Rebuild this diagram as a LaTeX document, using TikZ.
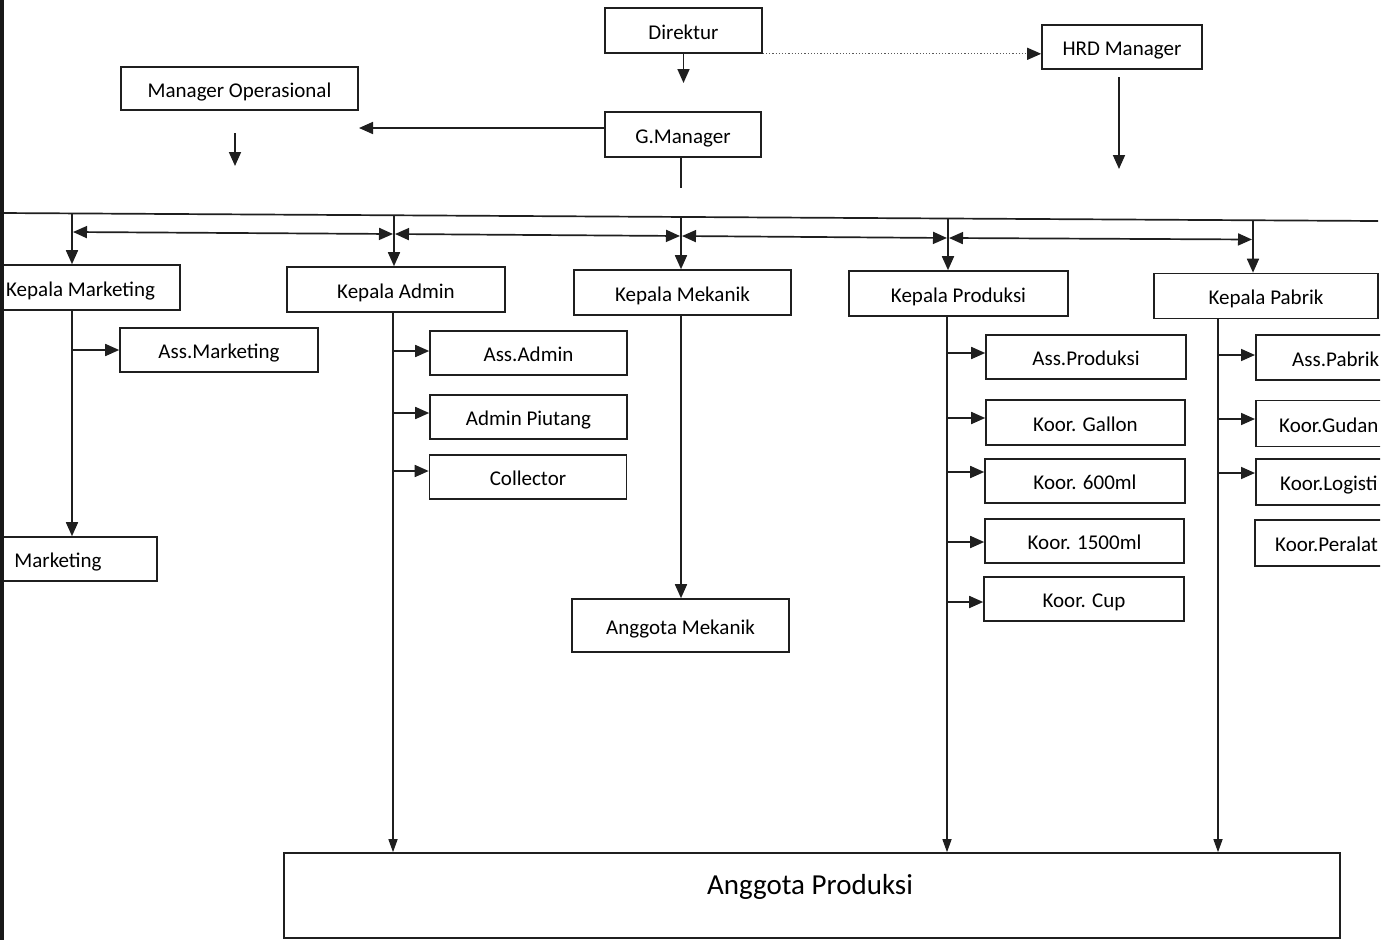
\documentclass[tikz,border=0pt]{standalone}
\usepackage{fontspec}
\setmainfont{Carlito}
\usetikzlibrary{arrows.meta}
\begin{document}
\begin{tikzpicture}[x=1pt,y=-1pt,
  box/.style={draw=black!88, line width=1.6pt, inner sep=0pt, text height=17pt, text depth=0pt, font=\fontsize{21}{24}\selectfont},
  lbl/.style={inner sep=0pt, text height=17pt, text depth=0pt, font=\fontsize{21}{24}\selectfont},
  ln/.style={draw=black!88, line width=1.7pt},
  arr/.style={ln, -{Triangle[length=14pt,width=12pt]}},
  darr/.style={ln, {Triangle[length=14pt,width=12pt]}-{Triangle[length=14pt,width=12pt]}},
  tarr/.style={draw=black!88, line width=1.4pt, -{Triangle[length=13pt,width=9pt]}},
  dotarr/.style={draw=black!65, line width=1.2pt, dotted, -{Triangle[length=14pt,width=12pt,fill=black!88,color=black!88]}}
]
\useasboundingbox (0,0) rectangle (1393,940);
\fill[white] (0,0) rectangle (1393,940);
\begin{scope}
\clip (4,-5) rectangle (1380,945);

% top level
\node[box, minimum width=157pt, minimum height=45pt] (dir) at (683.5,30.5) {Direktur};
\node[box, minimum width=160pt, minimum height=44pt] (hrd) at (1122,47) {HRD Manager};
\node[box, minimum width=156pt, minimum height=45pt] (gm) at (683,134.5) {G.Manager};
\node[box, minimum width=237pt, minimum height=43pt] (mo) at (239.5,88.5) {Manager Operasional};

\coordinate (dirend) at (683.5,83);
\coordinate (gmend) at (359,128);
\coordinate (gmstart) at (605,128);
\coordinate (mo1) at (235,133);
\coordinate (mo2) at (235,166);
\coordinate (h1) at (1119,77);
\coordinate (h2) at (1119,169);
\coordinate (g1) at (681,157);
\coordinate (g2) at (681,188);

\draw[arr] (dir.south) -- (dirend);
\draw[dotarr] (dir.south east) -- (hrd.west |- dir.south east);
\draw[arr] (gmstart) -- (gmend);
\draw[arr] (mo1) -- (mo2);
\draw[arr] (h1) -- (h2);
\draw[ln] (g1) -- (g2);

% second level
\node[box, minimum width=218pt, minimum height=45pt] (km) at (71,287.5) {};
\node[lbl, anchor=west] (kmt) at (6,287.5) {Kepala Marketing};
\node[box, minimum width=218pt, minimum height=45pt] (ka) at (396,289.5) {Kepala Admin};
\node[box, minimum width=217pt, minimum height=45pt] (kme) at (682.5,292.5) {Kepala Mekanik};
\node[box, minimum width=219pt, minimum height=45pt] (kp) at (958.5,293.5) {Kepala Produksi};
\node[box, minimum width=224pt, minimum height=45pt] (kpb) at (1266,296) {Kepala Pabrik};

% bus
\coordinate (bl) at (0,213);
\coordinate (br) at (1378,221);
\draw[ln] (bl) -- (br);
\coordinate (b1) at (72,213.4);
\coordinate (b2) at (394,215.3);
\coordinate (b3) at (681,216.9);
\coordinate (b4) at (948,218.5);
\coordinate (b5) at (1253,220.3);
\draw[arr] (b1) -- (b1 |- km.north);
\draw[arr] (b2) -- (b2 |- ka.north);
\draw[arr] (b3) -- (b3 |- kme.north);
\draw[arr] (b4) -- (b4 |- kp.north);
\draw[arr] (b5) -- (b5 |- kpb.north);

% coordination line
\draw[darr] (73,232) -- (393,234);
\draw[darr] (395,234) -- (680,236);
\draw[darr] (682,236) -- (947,238);
\draw[darr] (949,238) -- (1252,239.5);

% marketing
\node[box, minimum width=198pt, minimum height=44pt] (am) at (219,350) {Ass.Marketing};
\node[box, minimum width=198pt, minimum height=44pt] (mk) at (58,559) {Marketing};
\draw[arr] (b1 |- km.south) -- (b1 |- mk.north);
\draw[arr] (b1 |- am.west) -- (am.west);

% admin
\node[box, minimum width=197pt, minimum height=44pt] (aa) at (528.5,353) {Ass.Admin};
\node[box, minimum width=197pt, minimum height=44pt] (apt) at (528.5,417) {Admin Piutang};
\node[box, minimum width=197pt, minimum height=44pt] (col) at (528,477) {Collector};
\coordinate (c2) at (393,0);
\draw[arr] (c2 |- 0,351) -- (aa.west |- 0,351);
\draw[arr] (c2 |- 0,413) -- (apt.west |- 0,413);
\draw[arr] (c2 |- 0,471) -- (col.west |- 0,471);

% mekanik
\node[box, minimum width=217pt, minimum height=53pt] (ame) at (680.5,625.5) {Anggota Mekanik};
\draw[arr] (b3 |- kme.south) -- (b3 |- ame.north);

% produksi
\node[box, minimum width=200pt, minimum height=44pt] (asp) at (1086,357) {Ass.Produksi};
\node[box, minimum width=199pt, minimum height=45pt] (kg) at (1085.5,422.5) {Koor. Gallon};
\node[box, minimum width=200pt, minimum height=44pt] (k6) at (1085,481) {Koor. 600ml};
\node[box, minimum width=199pt, minimum height=44pt] (k15) at (1084.5,541) {Koor. 1500ml};
\node[box, minimum width=200pt, minimum height=44pt] (kc) at (1084,599) {Koor. Cup};
\coordinate (c4) at (947,0);
\draw[arr] (c4 |- 0,353) -- (asp.west |- 0,353);
\draw[arr] (c4 |- 0,418) -- (kg.west |- 0,418);
\draw[arr] (c4 |- 0,472) -- (k6.west |- 0,472);
\draw[arr] (c4 |- 0,542) -- (k15.west |- 0,542);
\draw[arr] (c4 |- 0,602) -- (kc.west |- 0,602);

% pabrik
\node[box, minimum width=200pt, minimum height=45pt, anchor=west] (apb) at (1255,357.5) {};
\node[box, minimum width=200pt, minimum height=46pt, anchor=west] (kgd) at (1255,423.5) {};
\node[box, minimum width=200pt, minimum height=46pt, anchor=west] (klg) at (1255,482) {};
\node[box, minimum width=200pt, minimum height=46pt, anchor=west] (kpr) at (1254,543) {};
\node[lbl, anchor=west] (apbt) at (1292,357.5) {Ass.Pabrik};
\node[lbl, anchor=west] (kgdt) at (1279,423.5) {Koor.Gudan};
\node[lbl, anchor=west] (klgt) at (1280,482) {Koor.Logisti};
\node[lbl, anchor=west] (kprt) at (1275,543) {Koor.Peralat};
\coordinate (c5) at (1218,0);
\draw[arr] (c5 |- 0,355) -- (apb.west |- 0,355);
\draw[arr] (c5 |- 0,419) -- (kgd.west |- 0,419);
\draw[arr] (c5 |- 0,473) -- (klg.west |- 0,473);

% anggota produksi
\node[box, minimum width=1056pt, minimum height=85pt] (agp) at (812,895.5) {};
\node[inner sep=0pt, font=\fontsize{29}{33}\selectfont] (agpt) at (810,887) {Anggota Produksi};
\draw[tarr] (c2 |- ka.south) -- (c2 |- agp.north);
\draw[tarr] (c4 |- kp.south) -- (c4 |- agp.north);
\draw[tarr] (c5 |- kpb.south) -- (c5 |- agp.north);
\end{scope}
\fill[black!90] (0,0) rectangle (4,940);
\end{tikzpicture}
\end{document}
